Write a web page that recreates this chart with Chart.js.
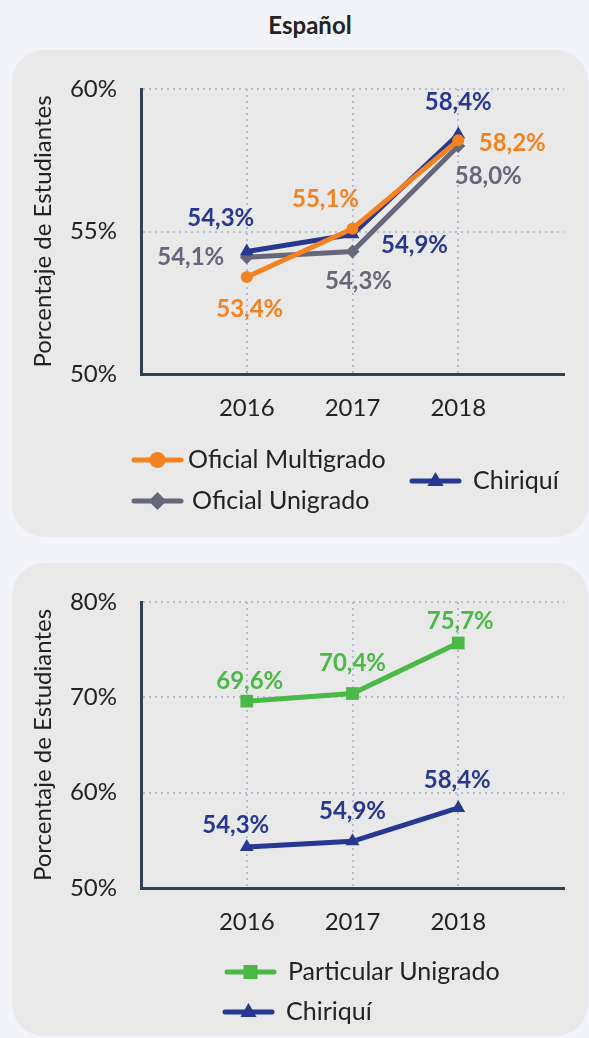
<!DOCTYPE html>
<html><head><meta charset="utf-8">
<script src="https://cdn.jsdelivr.net/npm/chart.js@4.4.1/dist/chart.umd.min.js"></script>
<style>
html,body{margin:0;padding:0;background:#f2f4f9;width:589px;height:1038px;overflow:hidden;font-family:Lato,sans-serif;position:relative;}
#title{position:absolute;left:0;width:620px;top:10px;line-height:30px;text-align:center;font-weight:bold;font-size:24px;font-family:Lato;color:#222;}
.panel{position:absolute;background:#e9e9e9;border-radius:32px;left:12px;width:576px;}
#p1{top:50px;height:487px;}
#p2{top:563px;height:473px;}
canvas{position:absolute;left:0;}
#c1{top:50px;}
#c2{top:563px;}
</style></head>
<body>
<div id="title">Español</div>
<div class="panel" id="p1"></div>
<div class="panel" id="p2"></div>
<canvas id="c1" width="589" height="487"></canvas>
<canvas id="c2" width="589" height="475"></canvas>
<script>
// ---- data ----
const categories = ['2016', '2017', '2018'];
const oficialMultigrado = [53.4, 55.1, 58.2];
const oficialUnigrado = [54.1, 54.3, 58.0];
const chiriqui1 = [54.3, 54.9, 58.4];
const particularUnigrado = [69.6, 70.4, 75.7];
const chiriqui2 = [54.3, 54.9, 58.4];
const yRange1 = [50, 60, 5];
const yRange2 = [50, 80, 10];

// ---- label placement (dx, dy from point) ----
const offMulti = [[3, 32], [-27, -29], [54, 3]];
const offUni = [[-56, 0], [6, 30], [30, 30]];
const offChi1 = [[-26, -33], [62, 11], [0, -32]];
const offPart = [[3, -20], [0, -30], [2, -22]];
const offChi2 = [[-11, -22], [0, -30], [-1, -28]];

const C_ORANGE = '#f58220', C_GRAY = '#67677b', C_NAVY = '#283891', C_GREEN = '#4cb848';
const GRID = '#b4bdd3', AXIS = '#33414f', TXT = '#222222';
const FONT = 'Lato';

const padLabels = ['', ...categories, ''];
const pad = arr => [null, ...arr, null];

function fmt(v) { return v.toFixed(1).replace('.', ',') + '%'; }

function drawMarker(ctx, style, x, y, r, color) {
  ctx.save();
  ctx.fillStyle = color;
  ctx.beginPath();
  if (style === 'circle') { ctx.arc(x, y, r, 0, Math.PI * 2); }
  else if (style === 'rectRot') { ctx.moveTo(x, y - r); ctx.lineTo(x + r, y); ctx.lineTo(x, y + r); ctx.lineTo(x - r, y); ctx.closePath(); }
  else if (style === 'triangle') { ctx.moveTo(x, y - r); ctx.lineTo(x + r * 0.9, y + r * 0.55); ctx.lineTo(x - r * 0.9, y + r * 0.55); ctx.closePath(); }
  else if (style === 'rect') { ctx.rect(x - r * 0.7, y - r * 0.7, r * 1.4, r * 1.4); }
  ctx.fill();
  ctx.restore();
}

const valueLabels = {
  id: 'valueLabels',
  afterDatasetsDraw(chart) {
    const ctx = chart.ctx;
    ctx.save();
    ctx.font = 'bold 24px ' + FONT;
    ctx.textAlign = 'center';
    ctx.textBaseline = 'middle';
    chart.data.datasets.forEach((ds, i) => {
      const meta = chart.getDatasetMeta(i);
      meta.data.forEach((pt, j) => {
        const v = ds.data[j];
        if (v === null || v === undefined) return;
        const o = ds.labelOffsets[j - 1];
        ctx.fillStyle = ds.borderColor;
        ctx.fillText(fmt(v), pt.x + o[0], pt.y + o[1]);
      });
    });
    ctx.restore();
  }
};

const customLegend = {
  id: 'customLegend',
  afterDraw(chart, args, opts) {
    const ctx = chart.ctx;
    ctx.save();
    ctx.font = '25px ' + FONT;
    ctx.textBaseline = 'middle';
    ctx.textAlign = 'left';
    opts.items.forEach(it => {
      const ds = chart.data.datasets[it.index];
      ctx.strokeStyle = ds.borderColor;
      ctx.lineWidth = 5;
      ctx.lineCap = 'round';
      ctx.beginPath();
      ctx.moveTo(it.x, it.y);
      ctx.lineTo(it.x + 47, it.y);
      ctx.stroke();
      drawMarker(ctx, ds.pointStyle, it.x + 23.5, it.y, ds.legendR, ds.borderColor);
      ctx.fillStyle = TXT;
      ctx.fillText(ds.label, it.x + it.tx, it.y);
    });
    ctx.restore();
  }
};

function makeChart(id, datasets, yr, legendItems, xH) {
  return new Chart(document.getElementById(id), {
    type: 'line',
    data: { labels: padLabels, datasets },
    plugins: [valueLabels, customLegend],
    options: {
      responsive: false,
      animation: false,
      events: [],
      layout: { padding: { top: 39, right: 25, left: 0, bottom: 0 } },
      plugins: { legend: { display: false }, tooltip: { enabled: false }, customLegend: { items: legendItems } },
      scales: {
        x: {
          type: 'category',
          offset: false,
          grid: {
            drawTicks: false,
            lineWidth: 2,
            color: c => (c.index === 0 || c.index === padLabels.length - 1) ? 'rgba(0,0,0,0)' : GRID
          },
          border: { color: AXIS, width: 3, dash: [2, 4] },
          ticks: { color: TXT, font: { family: FONT, size: 24 }, padding: 20, autoSkip: false, maxRotation: 0 },
          afterFit: s => { s.height = xH; }
        },
        y: {
          min: yr[0], max: yr[1],
          grid: { drawTicks: false, lineWidth: 2, color: c => c.index === 0 ? 'rgba(0,0,0,0)' : GRID },
          border: { color: AXIS, width: 3, dash: [2, 4] },
          ticks: { stepSize: yr[2], color: TXT, font: { family: FONT, size: 24 }, padding: 24, callback: v => v + '%' },
          title: { display: true, text: 'Porcentaje de Estudiantes', color: TXT, font: { family: FONT, size: 24 }, padding: { top: 29, bottom: 0 } },
          afterFit: s => { s.width = 141; }
        }
      }
    }
  });
}

function ds(label, data, color, style, r, legendR, offs, order) {
  return {
    label, data: pad(data), borderColor: color, backgroundColor: color,
    pointStyle: style, pointRadius: r, pointBorderWidth: 0, pointBackgroundColor: color,
    borderWidth: 5, tension: 0, order, labelOffsets: offs, legendR
  };
}

Chart.defaults.font.family = FONT;

makeChart('c1', [
  ds('Oficial Multigrado', oficialMultigrado, C_ORANGE, 'circle', 6, 8, offMulti, 0),
  ds('Oficial Unigrado', oficialUnigrado, C_GRAY, 'rectRot', 7, 9, offUni, 2),
  ds('Chiriquí', chiriqui1, C_NAVY, 'triangle', 8, 9, offChi1, 1)
], yRange1, [
  { index: 0, x: 134, y: 410, tx: 54 },
  { index: 1, x: 134, y: 451, tx: 58 },
  { index: 2, x: 412, y: 431, tx: 61 }
], 163);

makeChart('c2', [
  ds('Particular Unigrado', particularUnigrado, C_GREEN, 'rect', 9, 10, offPart, 0),
  ds('Chiriquí', chiriqui2, C_NAVY, 'triangle', 8, 9, offChi2, 1)
], yRange2, [
  { index: 0, x: 227, y: 409, tx: 61 },
  { index: 1, x: 225, y: 449, tx: 61 }
], 150);
</script>
</body></html>
